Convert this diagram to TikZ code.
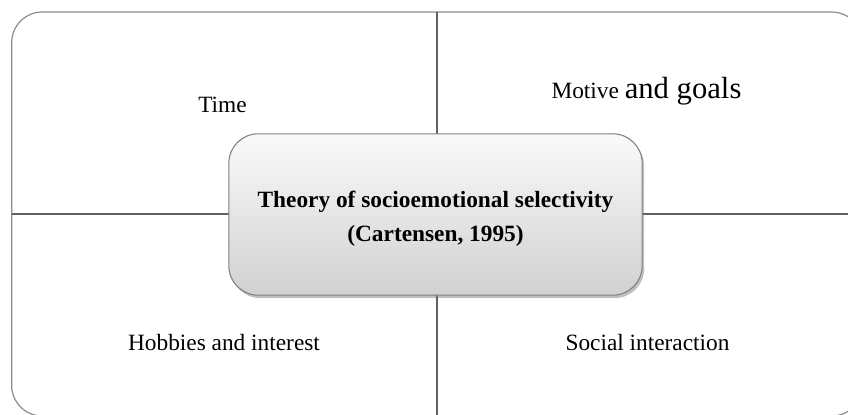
\documentclass[tikz,border=0pt]{standalone}
\usepackage{fontspec}
\setmainfont{Liberation Serif}
\usetikzlibrary{shadows}

\begin{document}
\begin{tikzpicture}[x=0.75pt,y=-0.75pt,
    frame/.style={draw=black!45, line width=0.9pt, rounded corners=23pt,
        minimum width=638pt, minimum height=303pt, inner sep=0pt, outer sep=0pt},
    divider/.style={draw=black!62, line width=0.8pt},
    theory/.style={draw=black!50, line width=0.8pt, rounded corners=22pt,
        top color=black!2, bottom color=black!18,
        minimum width=310pt, minimum height=121pt,
        drop shadow={shadow xshift=1.5pt, shadow yshift=-2.2pt, fill=black!55, opacity=0.45}},
    theorylabel/.style={align=center, font=\bfseries\fontsize{17.5}{25.5}\selectfont},
    quarter/.style={anchor=base, font=\fontsize{17.5}{21}\selectfont}]
\useasboundingbox (0,0) rectangle (848,414);

% Outer frame and the two dividers
\node[frame] (frame) at (437,214) {};
\draw[divider] (frame.north) -- (frame.south);
\draw[divider] (frame.west) -- (frame.east);

% Four quarters
\node[quarter] (time) at (222.5,112) {Time};
\node[quarter] (motive) at (646.5,98) {Motive {\fontsize{23}{28}\selectfont and goals}};
\node[quarter] (hobbies) at (224,350) {Hobbies and interest};
\node[quarter] (social) at (647.5,350) {Social interaction};

% Theory in the middle
\node[theory] (theory) at (435.5,214.5) {};
\node[theorylabel] (theorytext) at ([yshift=-3.4pt]theory.center)
    {Theory of socioemotional selectivity\\(Cartensen, 1995)};
\end{tikzpicture}
\end{document}
